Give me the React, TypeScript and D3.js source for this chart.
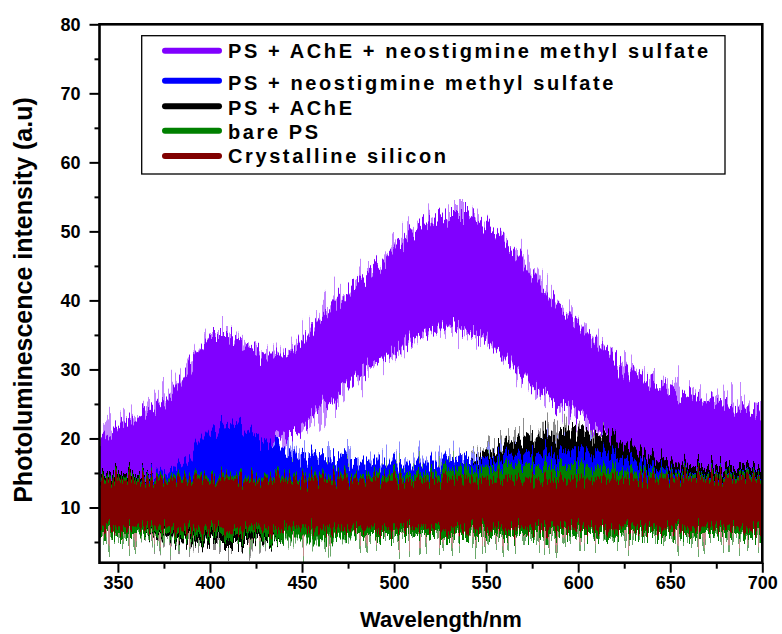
import React, { useEffect, useRef } from 'react';
import * as d3 from 'd3';

// wavelength grids (nm)
const wl10 = [340, 350, 360, 370, 380, 390, 400, 410, 420, 430, 440, 450, 460, 470, 480, 490, 500, 510, 520, 530, 540, 550, 560, 570, 580, 590, 600, 610, 620, 630, 640, 650, 660, 670, 680, 690, 700];
const wl20 = [340, 360, 380, 400, 420, 440, 460, 480, 500, 520, 540, 560, 580, 600, 620, 640, 660, 680, 700];

// PS + AChE + neostigmine methyl sulfate (upper / lower edge of the noisy trace)
const purpleHigh = [20, 21.5, 23, 24.5, 27, 31, 35, 35, 33.5, 32, 32, 34, 37.5, 40, 42.5, 44.5, 47.5, 50, 51.5, 52.5, 52.5, 51, 48.5, 45.5, 42, 39, 36.5, 34, 31.5, 29.5, 28, 27, 26, 25.5, 25, 24.5, 24];
const purpleLow = [13, 13, 13, 13, 13.5, 14, 15, 16, 17.5, 19, 20, 21.5, 24, 26.5, 29, 31, 32.5, 34.5, 35.5, 36.5, 35.5, 34.5, 31.5, 29, 26.5, 25, 23.5, 21.5, 19.5, 17.5, 16, 15, 15, 15, 15, 15, 15];

// PS + neostigmine methyl sulfate
const blueHigh = [14, 14, 14.5, 15, 15.5, 17.5, 21.5, 22, 21.5, 20, 18, 17.5, 17, 17, 16.5, 16.5, 16.5, 16.5, 16.5, 16.5, 17, 17, 17.5, 17.5, 18, 18, 18, 18, 17.5, 17, 16, 15.5, 15, 15, 15, 15, 15];
const blueLow = [7, 7, 7, 7, 7, 7, 7, 7, 7, 7, 7, 7, 7, 7, 7, 7, 7, 7, 7, 7, 7, 7, 7, 7, 7, 7, 7, 7, 7, 7, 6.5, 6.5, 6.5, 6.5, 6.5, 6.5, 6.5];

// PS + AChE
const blackHigh = [15, 15, 15, 16, 16, 15, 15, 15, 15.5, 16, 17, 19, 20.5, 21, 20, 17.5, 16, 16, 16];
const blackLow = [6, 6, 5.5, 5, 5, 5.5, 6, 6, 6, 6, 6, 6, 6, 6, 6, 6, 6, 6, 6];

// bare PS
const greenHigh = [14.5, 14.5, 14.5, 14.5, 14.5, 14.5, 14.5, 14.5, 15, 15, 15.5, 16, 16, 16, 15.5, 15, 14.8, 14.8, 14.8];
const greenLow = [6, 6, 6, 6, 6, 5.5, 5.5, 6, 6, 6, 6, 6, 6, 6, 6, 6, 6, 6, 6];

// Crystalline silicon
const redHigh = [14, 14, 14, 14, 14, 14, 14, 14, 14, 14, 14, 14, 14, 14, 14.2, 14.3, 14.3, 14.3, 14.3];
const redLow = [7, 7, 7, 7, 7, 7, 7, 7, 7, 7, 7, 7, 7, 7, 7, 7, 7, 7, 7];

const xTicks = [350, 400, 450, 500, 550, 600, 650, 700];
const xMinorTicks = [375, 425, 475, 525, 575, 625, 675];
const yTicks = [10, 20, 30, 40, 50, 60, 70, 80];
const yMinorTicks = [5, 15, 25, 35, 45, 55, 65, 75];

const legendNames = [
    'PS + AChE + neostigmine methyl sulfate',
    'PS + neostigmine methyl sulfate',
    'PS + AChE',
    'bare PS',
    'Crystalline silicon',
];

const series = [
    { name: legendNames[0], color: '#8000ff', halo: '#c184ff', wl: wl10, hi: purpleHigh, lo: purpleLow },
    { name: legendNames[2], color: '#000000', halo: '#8c8c8c', wl: wl20, hi: blackHigh, lo: blackLow },
    { name: legendNames[1], color: '#0000ff', halo: '#8a8aff', wl: wl10, hi: blueHigh, lo: blueLow },
    { name: legendNames[3], color: '#008000', halo: '#6aa86a', wl: wl20, hi: greenHigh, lo: greenLow },
    { name: legendNames[4], color: '#800000', halo: '#c48a8a', wl: wl20, hi: redHigh, lo: redLow },
];

const legendColors = ['#8000ff', '#0000ff', '#000000', '#008000', '#800000'];

const FONT = "'Liberation Sans', Arial, sans-serif";

export default function App() {
    const svgRef = useRef<SVGSVGElement>(null);

    useEffect(() => {
        const svg = d3.select(svgRef.current);
        svg.selectAll('*').remove();

        const left = 99.5;
        const right = 762.3;
        const top = 24.3;
        const bottom = 562.7;

        const x = d3.scaleLinear().domain([340, 700]).range([left, right]);
        const y = d3.scaleLinear().domain([2, 80]).range([bottom, top]);

        const defs = svg.append('defs');
        defs.append('clipPath')
            .attr('id', 'plot-clip')
            .append('rect')
            .attr('x', left)
            .attr('y', top)
            .attr('width', right - left)
            .attr('height', bottom - top);

        // texture for the noisy spectra: vertical jitter only
        const makeJitter = (id, seed, scale) => {
            const f = defs
                .append('filter')
                .attr('id', id)
                .attr('filterUnits', 'userSpaceOnUse')
                .attr('x', 0)
                .attr('y', 0)
                .attr('width', 782)
                .attr('height', 634)
                .attr('color-interpolation-filters', 'sRGB');
            f.append('feTurbulence')
                .attr('type', 'fractalNoise')
                .attr('baseFrequency', '0.45 0.006')
                .attr('numOctaves', 2)
                .attr('seed', seed)
                .attr('result', 'noise');
            f.append('feColorMatrix')
                .attr('in', 'noise')
                .attr('type', 'matrix')
                .attr('values', '1 0 0 0 0  0 0 0 0 0.5  0 0 0 0 0  0 0 0 0 1')
                .attr('result', 'map');
            f.append('feDisplacementMap')
                .attr('in', 'SourceGraphic')
                .attr('in2', 'map')
                .attr('scale', scale)
                .attr('xChannelSelector', 'G')
                .attr('yChannelSelector', 'R');
        };
        makeJitter('jitter', 3, 42);
        makeJitter('jitter-halo', 11, 80);

        const area = d3
            .area<number>()
            .x((d) => x(d))
            .curve(d3.curveLinear);

        const plot = svg.append('g').attr('clip-path', 'url(#plot-clip)');

        // light spikes first, then dense traces
        series.forEach((s) => {
            plot.append('path')
                .datum(s.wl)
                .attr('fill', s.halo)
                .attr('filter', 'url(#jitter-halo)')
                .attr('d', area.y0((d, i) => y(s.lo[i])).y1((d, i) => y(s.hi[i]))(s.wl));
        });
        series.forEach((s) => {
            plot.append('path')
                .datum(s.wl)
                .attr('fill', s.color)
                .attr('filter', 'url(#jitter)')
                .attr('d', area.y0((d, i) => y(s.lo[i])).y1((d, i) => y(s.hi[i]))(s.wl));
        });

        // frame
        svg.append('rect')
            .attr('x', left)
            .attr('y', top)
            .attr('width', right - left)
            .attr('height', bottom - top)
            .attr('fill', 'none')
            .attr('stroke', '#000')
            .attr('stroke-width', 2.6);

        const styleAxis = (g) => {
            g.select('.domain').remove();
            g.selectAll('line').attr('stroke', '#000').attr('stroke-width', 2);
            g.selectAll('text')
                .attr('fill', '#000')
                .style('font-family', FONT)
                .style('font-weight', 'bold')
                .style('font-size', '18px');
        };

        svg.append('g')
            .attr('transform', `translate(0,${bottom})`)
            .call(d3.axisBottom(x).tickValues(xMinorTicks).tickSize(6).tickFormat(() => ''))
            .call(styleAxis);
        svg.append('g')
            .attr('transform', `translate(0,${bottom})`)
            .call(d3.axisBottom(x).tickValues(xTicks).tickSize(10).tickPadding(4).tickFormat(d3.format('d')))
            .call(styleAxis);

        svg.append('g')
            .attr('transform', `translate(${left},0)`)
            .call(d3.axisLeft(y).tickValues(yMinorTicks).tickSize(5).tickFormat(() => ''))
            .call(styleAxis);
        svg.append('g')
            .attr('transform', `translate(${left},0)`)
            .call(d3.axisLeft(y).tickValues(yTicks).tickSize(10).tickPadding(9).tickFormat(d3.format('d')))
            .call(styleAxis);

        // axis titles
        svg.append('text')
            .attr('x', (left + right) / 2 + 10)
            .attr('y', 627)
            .attr('text-anchor', 'middle')
            .style('font-family', FONT)
            .style('font-weight', 'bold')
            .style('font-size', '22px')
            .text('Wavelength/nm');

        svg.append('text')
            .attr('transform', 'translate(32,300) rotate(-90)')
            .attr('text-anchor', 'middle')
            .style('font-family', FONT)
            .style('font-weight', 'bold')
            .style('font-size', '25px')
            .text('Photoluminescence intensity (a.u)');

        // legend
        const legend = svg.append('g');
        legend.append('rect')
            .attr('x', 141.7)
            .attr('y', 35.7)
            .attr('width', 725 - 141.7)
            .attr('height', 174 - 35.7)
            .attr('fill', '#fff')
            .attr('stroke', '#000')
            .attr('stroke-width', 1.3);

        const rowY = [50.7, 80.7, 106.3, 130.7, 156];
        const baseY = [58.3, 90, 115, 139, 162.7];
        legendNames.forEach((name, i) => {
            legend.append('line')
                .attr('x1', 165)
                .attr('x2', 219)
                .attr('y1', rowY[i])
                .attr('y2', rowY[i])
                .attr('stroke', legendColors[i])
                .attr('stroke-width', 6)
                .attr('stroke-linecap', 'round');
            legend.append('text')
                .attr('x', 228)
                .attr('y', baseY[i])
                .style('font-family', FONT)
                .style('font-weight', 'bold')
                .style('font-size', '20px')
                .style('letter-spacing', '2.6px')
                .text(name);
        });
    }, []);

    return (
        <svg
            ref={svgRef}
            width={782}
            height={634}
            style={{ position: 'absolute', left: 0, top: 0, background: '#fff' }}
        />
    );
}
